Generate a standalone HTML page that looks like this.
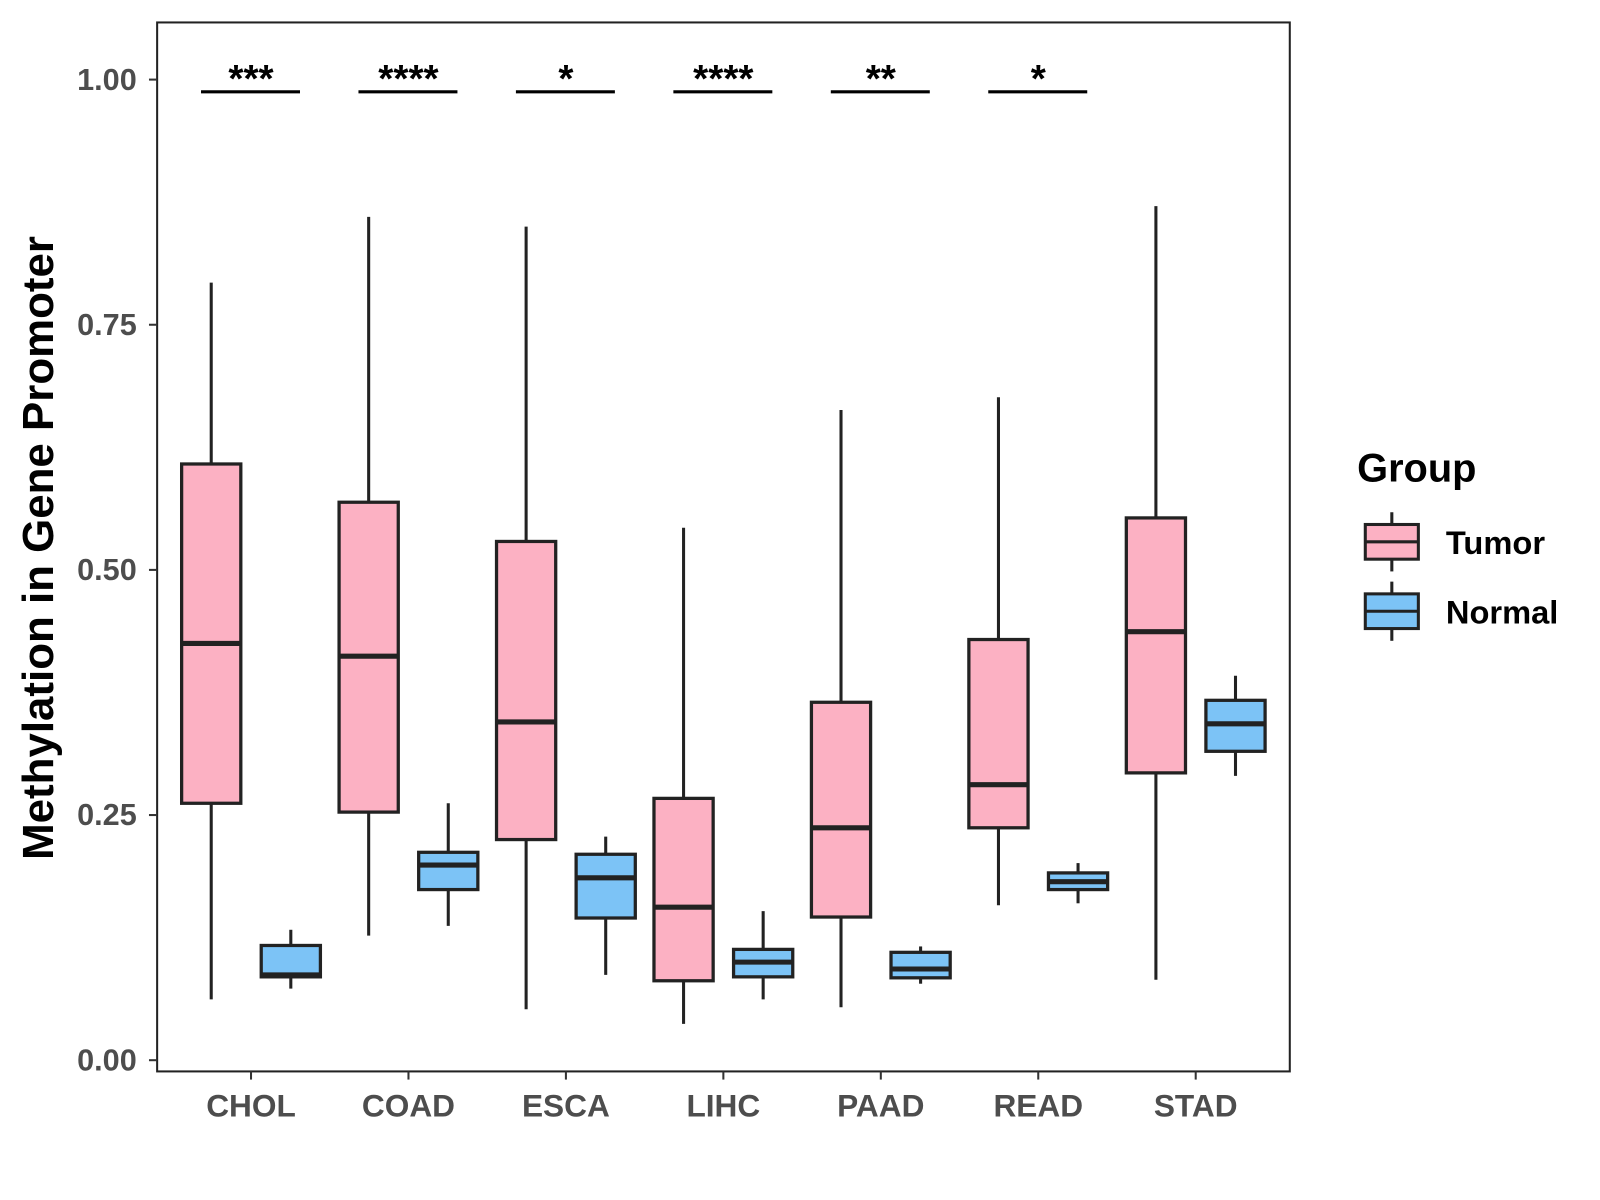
<!DOCTYPE html>
<html><head><meta charset="utf-8"><style>body{margin:0;background:#fff}svg{display:block}text{font-family:"Liberation Sans",Arial,sans-serif;font-weight:bold}</style></head>
<body>
<svg width="1600" height="1200" xmlns="http://www.w3.org/2000/svg">
<g id="c" transform="scale(1.0204)">
<rect x="154" y="22" width="1110" height="1028" fill="#fff" stroke="#222" stroke-width="2"/>
<text x="38" y="537" font-size="43" text-anchor="middle" transform="rotate(-90 38 537)" dy="14">Methylation in Gene Promoter</text>
<g>
<text x="1330" y="472" font-size="39">Group</text>
<g><line x1="1364" y1="502" x2="1364" y2="560" stroke="#222" stroke-width="3"/><rect x="1338" y="514" width="52" height="34" fill="#fcb1c3" stroke="#222" stroke-width="3"/><line x1="1338" y1="531" x2="1390" y2="531" stroke="#222" stroke-width="3"/><text x="1417" y="543" font-size="32">Tumor</text></g>
<g><line x1="1364" y1="570" x2="1364" y2="628" stroke="#222" stroke-width="3"/><rect x="1338" y="582" width="52" height="34" fill="#7cc3f6" stroke="#222" stroke-width="3"/><line x1="1338" y1="599" x2="1390" y2="599" stroke="#222" stroke-width="3"/><text x="1417" y="611" font-size="32">Normal</text></g>
</g>
</g>
</svg>
<script>
const categories=["CHOL","COAD","ESCA","LIHC","PAAD","READ","STAD"];
const tumorStats=[[0.062,0.262,0.425,0.608,0.793],[0.127,0.253,0.412,0.569,0.860],[0.052,0.225,0.345,0.529,0.850],[0.037,0.081,0.156,0.267,0.543],[0.054,0.146,0.237,0.365,0.663],[0.158,0.237,0.281,0.429,0.676],[0.082,0.293,0.437,0.553,0.871]];
const normalStats=[[0.073,0.085,0.087,0.117,0.133],[0.137,0.174,0.199,0.212,0.262],[0.087,0.145,0.186,0.210,0.228],[0.062,0.085,0.100,0.113,0.152],[0.078,0.084,0.093,0.110,0.116],[0.160,0.174,0.182,0.191,0.201],[0.290,0.315,0.343,0.367,0.392]];
const signif=["***","****","*","****","**","*",""];
const yTicks=[0,0.25,0.5,0.75,1.0];
const yTickLabels=["0.00","0.25","0.50","0.75","1.00"];
const svg=document.getElementById('c');const NS="http://www.w3.org/2000/svg";
const y=v=>1039-v*961;const x=i=>246+i*154.3;
function mk(t,a,p){const e=document.createElementNS(NS,t);for(const k in a)e.setAttribute(k,a[k]);(p||svg).appendChild(e);return e;}
yTicks.forEach((v,i)=>{const g=mk('g',{});


mk('line',{x1:146,x2:154,y1:y(v),y2:y(v),stroke:'#333','stroke-width':2},g);
const t=mk('text',{x:134,y:y(v)+10,'font-size':30,'text-anchor':'end',fill:'#4d4d4d'},g);t.textContent=yTickLabels[i];});
categories.forEach((c,i)=>{const g=mk('g',{});


mk('line',{x1:x(i),x2:x(i),y1:1050,y2:1058,stroke:'#333','stroke-width':2},g);
const t=mk('text',{x:x(i),y:1094,'font-size':31,'text-anchor':'middle',fill:'#4d4d4d'},g);t.textContent=c;
[[tumorStats,-39,'#fcb1c3','tumor'],[normalStats,39,'#7cc3f6','normal']].forEach(([S,off,col,nm])=>{const s=S[i];const cx=x(i)+off;
const b=mk('g',{});


mk('line',{x1:cx,x2:cx,y1:y(s[0]),y2:y(s[4]),stroke:'#222','stroke-width':3},b);
mk('rect',{x:cx-29,y:y(s[3]),width:58,height:y(s[1])-y(s[3]),fill:col,stroke:'#222','stroke-width':3.2},b);
mk('line',{x1:cx-29,x2:cx+29,y1:y(s[2]),y2:y(s[2]),stroke:'#222','stroke-width':5},b);});
if(signif[i]){const sg=mk('g',{});


mk('line',{x1:x(i)-49,x2:x(i)+48,y1:90,y2:90,stroke:'#000','stroke-width':3},sg);
const st=mk('text',{x:x(i),y:90,'font-size':38,'text-anchor':'middle'},sg);st.textContent=signif[i];}
});
</script>
</body></html>
